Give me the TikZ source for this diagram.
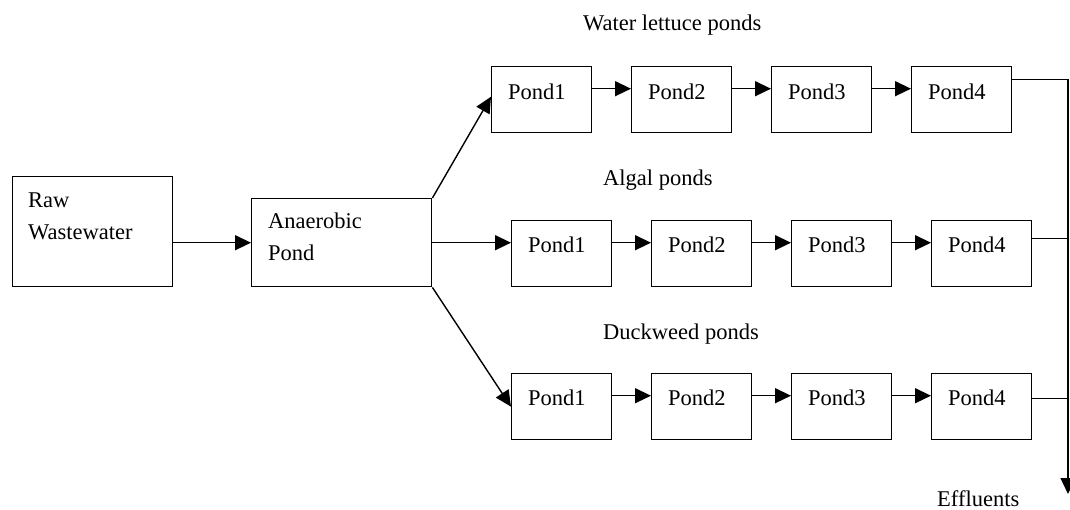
\documentclass[tikz,border=0pt]{standalone}
\usepackage{fontspec}
\setmainfont{Liberation Serif}
\usetikzlibrary{arrows.meta}

\begin{document}
\begin{tikzpicture}[x=1pt,y=-1pt,
  box/.style={draw, line width=1.4pt, inner sep=0pt, minimum width=100pt,
              minimum height=66pt, anchor=north west},
  txt/.style={font=\fontsize{22.5}{27}\selectfont, inner sep=0pt, anchor=base west},
  pipe/.style={line width=1.4pt},
  flow/.style={pipe, -{Triangle[length=16pt,width=15pt]}}]

\useasboundingbox (0,0) rectangle (1070,509);

% inflow and anaerobic stage
\node[box, minimum width=160pt, minimum height=110pt] (raw) at (12,176) {};
\node[txt] (raw-a) at ([xshift=16pt,yshift=-31pt]raw.north west) {Raw};
\node[txt] (raw-b) at ([xshift=16pt,yshift=-63pt]raw.north west) {Wastewater};

\node[box, minimum width=180pt, minimum height=88pt] (ana) at (251,198) {};
\node[txt] (ana-a) at ([xshift=17pt,yshift=-30pt]ana.north west) {Anaerobic};
\node[txt] (ana-b) at ([xshift=17pt,yshift=-62pt]ana.north west) {Pond};

% three lines of four ponds
\foreach \i/\x in {1/491,2/631,3/771,4/911} {
  \node[box] (t\i) at (\x,66) {};
  \node[txt] (t\i-txt) at ([xshift=17pt,yshift=-33pt]t\i.north west) {Pond\i};
}
\foreach \i/\x in {1/511,2/651,3/791,4/931} {
  \node[box] (m\i) at (\x,220) {};
  \node[txt] (m\i-txt) at ([xshift=17pt,yshift=-32pt]m\i.north west) {Pond\i};
  \node[box] (b\i) at (\x,373) {};
  \node[txt] (b\i-txt) at ([xshift=17pt,yshift=-32pt]b\i.north west) {Pond\i};
}

% line titles
\node[txt] (lettuce) at (583,30) {Water lettuce ponds};
\node[txt] (algal) at (603,185) {Algal ponds};
\node[txt] (duck) at (603,339) {Duckweed ponds};
\node[txt] (effl) at (937,506) {Effluents};

% connectors
\draw[flow] (raw.east |- ana.west) -- (ana.west);
\draw[flow] (ana.north east) -- ([yshift=3pt]t1.west);
\draw[flow] (ana.east) -- (ana.east -| m1.west);
\draw[flow] (ana.south east) -- (b1.west);

\foreach \r in {t,m,b} {
  \draw[flow] ([yshift=11pt]\r1.east) -- ([yshift=11pt]\r2.west);
  \draw[flow] ([yshift=11pt]\r2.east) -- ([yshift=11pt]\r3.west);
  \draw[flow] ([yshift=11pt]\r3.east) -- ([yshift=11pt]\r4.west);
}

% collector to effluent
\coordinate (out) at (1068,494);
\draw[flow] ([yshift=20pt]t4.east) -| (out);
\draw[pipe] ([yshift=15pt]m4.east) -- ([yshift=15pt]m4.east -| out);
\draw[pipe] ([yshift=8pt]b4.east) -- ([yshift=8pt]b4.east -| out);
\end{tikzpicture}
\end{document}
